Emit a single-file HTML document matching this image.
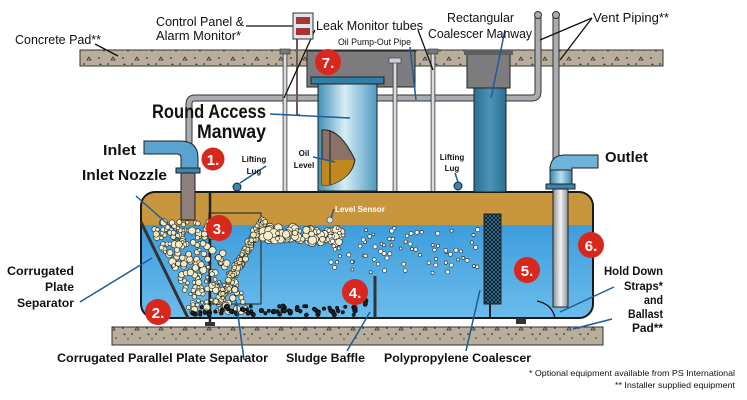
<!DOCTYPE html>
<html><head><meta charset="utf-8"><style>
html,body{margin:0;padding:0;background:#fff;}
svg{display:block;}
.t{font-family:"Liberation Sans Narrow","Liberation Sans",sans-serif;fill:#111;}
.b{font-weight:bold;}
</style></head><body>
<svg id="s" width="747" height="400" viewBox="0 0 747 400" xmlns="http://www.w3.org/2000/svg">
<defs>
<linearGradient id="water" x1="0" y1="0" x2="0" y2="1"><stop offset="0" stop-color="#2c92d6"/><stop offset="1" stop-color="#6cbcec"/></linearGradient>
<linearGradient id="cyl" x1="0" y1="0" x2="1" y2="0"><stop offset="0" stop-color="#3f8fb5"/><stop offset="0.45" stop-color="#d6eef6"/><stop offset="1" stop-color="#4f9ac0"/></linearGradient>
<linearGradient id="coal" x1="0" y1="0" x2="1" y2="0"><stop offset="0" stop-color="#2c6f92"/><stop offset="0.5" stop-color="#4a93b8"/><stop offset="1" stop-color="#2c6f92"/></linearGradient>
<linearGradient id="pipe" x1="0" y1="0" x2="1" y2="0"><stop offset="0" stop-color="#8a8f95"/><stop offset="0.5" stop-color="#f4f4f4"/><stop offset="1" stop-color="#8a8f95"/></linearGradient>
<linearGradient id="blpipe" x1="0" y1="0" x2="1" y2="0"><stop offset="0" stop-color="#3a85b0"/><stop offset="0.5" stop-color="#b8e0f0"/><stop offset="1" stop-color="#3a85b0"/></linearGradient>
<pattern id="grav" width="24" height="18" patternUnits="userSpaceOnUse"><rect width="24" height="18" fill="#b9ad9c"/><circle cx="3" cy="4" r="0.9" fill="#333"/><circle cx="12" cy="10" r="0.9" fill="#333"/><path d="M17 3l2 3h-4z" fill="none" stroke="#333" stroke-width="0.8"/><circle cx="8" cy="15" r="0.7" fill="#333"/><path d="M4 9l2 2h-3z" fill="#444"/><circle cx="20" cy="14" r="0.8" fill="#333"/></pattern>
<pattern id="mesh" width="4" height="4" patternUnits="userSpaceOnUse"><rect width="4" height="4" fill="#2d7aa8"/><path d="M0 0L4 4M4 0L0 4" stroke="#111" stroke-width="0.8"/></pattern>
</defs>
<rect x="80" y="50" width="583" height="16" fill="url(#grav)" stroke="#333" stroke-width="1"/>
<rect x="112" y="327" width="491" height="18" fill="url(#grav)" stroke="#333" stroke-width="1"/>
<rect x="307" y="51" width="108" height="36" fill="#7d7d80" stroke="#222"/>
<rect x="467" y="51" width="43" height="37" fill="#7d7d80" stroke="#222"/>
<rect x="464" y="50" width="49" height="5" fill="#5f5f62"/>
<path d="M538 15 V92 Q538 98 532 98 H195 Q189 98 189 104 V145" fill="none" stroke="#333" stroke-width="7"/>
<path d="M538 15 V92 Q538 98 532 98 H195 Q189 98 189 104 V145" fill="none" stroke="#a9adb2" stroke-width="5"/>
<path d="M556 15 V160" fill="none" stroke="#333" stroke-width="7"/>
<path d="M556 15 V160" fill="none" stroke="#a9adb2" stroke-width="5"/>
<circle cx="538" cy="15" r="3.5" fill="#a9adb2" stroke="#333"/><circle cx="556" cy="15" r="3.5" fill="#a9adb2" stroke="#333"/>
<rect x="283" y="50" width="4" height="268" fill="url(#pipe)" stroke="#333" stroke-width="0.6"/>
<rect x="431" y="50" width="4" height="268" fill="url(#pipe)" stroke="#333" stroke-width="0.6"/>
<rect x="393" y="62" width="4" height="163" fill="url(#pipe)" stroke="#333" stroke-width="0.6"/>
<rect x="389" y="58" width="12" height="5" fill="#ccd" stroke="#333" stroke-width="0.6"/>
<rect x="280" y="49" width="10" height="5" fill="#777" stroke="#333" stroke-width="0.6"/>
<rect x="428" y="49" width="10" height="5" fill="#777" stroke="#333" stroke-width="0.6"/>
<path d="M297 33 V115 H300" fill="none" stroke="#6b5a55" stroke-width="2"/>
<rect x="141" y="192" width="452" height="126" rx="14" fill="url(#water)"/>
<path d="M155 192 H579 Q593 192 593 206 V225 H141 V206 Q141 192 155 192Z" fill="#c8963c"/>
<rect x="141" y="192" width="452" height="126" rx="14" fill="none" stroke="#1a1a1a" stroke-width="2"/>
<rect x="318" y="83" width="59" height="108" fill="url(#cyl)" stroke="#222"/>
<rect x="311" y="77" width="73" height="7" fill="#2f7fa8" stroke="#222"/>
<path d="M322 130 Q340 128 355 160 Q352 178 330 185 L322 185 Z" fill="#8b7166" stroke="#222"/>
<path d="M322 160 H354 Q352 178 330 185 L322 185Z" fill="#c0891f"/>
<line x1="330" y1="130" x2="330" y2="185" stroke="#222" stroke-width="1"/>
<rect x="474" y="88" width="32" height="104" fill="url(#coal)" stroke="#222"/>
<rect x="484" y="214" width="17" height="90" fill="url(#mesh)" stroke="#222"/>
<line x1="490" y1="304" x2="490" y2="318" stroke="#222" stroke-width="2"/>
<rect x="553" y="187" width="15" height="120" fill="url(#pipe)" stroke="#222"/>
<path d="M550 167 V187 H572 V167 Z" fill="url(#blpipe)" stroke="#222"/>
<path d="M550 170 Q550 155 565 155 H598 V168 H572 V170 Z" fill="#6fb3d8" stroke="#222"/>
<rect x="546" y="184" width="29" height="5" fill="#3a85b0" stroke="#222"/>
<rect x="181" y="168" width="14" height="52" fill="#8c7f7c" stroke="#222"/>
<path d="M144 141 H180 Q198 141 198 158 V170 H181 V158 Q181 154 177 154 H144 Z" fill="#5aa3d0" stroke="#222"/>
<rect x="176" y="168" width="24" height="5" fill="#3a85b0" stroke="#222"/>
<circle cx="237" cy="187" r="4" fill="#3a85b0" stroke="#222"/><circle cx="458" cy="186" r="4" fill="#3a85b0" stroke="#222"/>
<line x1="141" y1="222" x2="188" y2="318" stroke="#333" stroke-width="3"/>
<rect x="209" y="213" width="52" height="91" fill="none" stroke="#333" stroke-width="1.2"/>
<line x1="210" y1="192" x2="210" y2="326" stroke="#222" stroke-width="2.5"/>
<rect x="205" y="322" width="10" height="4" fill="#333"/>
<rect x="516" y="318" width="10" height="6" fill="#333"/>
<line x1="375" y1="276" x2="375" y2="318" stroke="#333" stroke-width="3"/>
<path d="M537 301 Q552 304 555 318" fill="none" stroke="#111" stroke-width="1.3"/>
<g id="bub"></g>
<circle cx="330" cy="220" r="3" fill="#cfe8f5" stroke="#444" stroke-width="0.6"/>
<g stroke="#1b5c9c" stroke-width="1.5" fill="none">
<line x1="136" y1="196" x2="179" y2="234"/><line x1="80" y1="302" x2="152" y2="258"/>
<line x1="244" y1="360" x2="236" y2="300"/><line x1="347" y1="351" x2="370" y2="312"/>
<line x1="466" y1="351" x2="480" y2="290"/><line x1="560" y1="312" x2="614" y2="287"/>
<line x1="573" y1="329" x2="612" y2="319"/><line x1="270" y1="114" x2="350" y2="118"/>
<line x1="313" y1="157" x2="335" y2="162"/><line x1="334" y1="209" x2="331" y2="218"/>
<line x1="455" y1="173" x2="458" y2="182"/><line x1="410" y1="47" x2="416" y2="100"/>
<line x1="505" y1="30" x2="491" y2="98"/><line x1="266" y1="166" x2="240" y2="183"/>
</g>
<g stroke="#111" stroke-width="1.3" fill="none">
<line x1="246" y1="26" x2="293" y2="26"/><line x1="315" y1="30" x2="284" y2="98"/>
<line x1="418" y1="30" x2="433" y2="70"/><line x1="592" y1="18" x2="540" y2="40"/><line x1="592" y1="18" x2="560" y2="60"/>
<line x1="95" y1="44" x2="118" y2="56"/>
</g>
<rect x="293" y="13" width="20" height="26" fill="#dce8ee" stroke="#333"/>
<rect x="296" y="17" width="14" height="7" fill="#a33"/><rect x="296" y="28" width="14" height="7" fill="#a33"/>
<g font-family="Liberation Sans" font-weight="bold" font-size="15" fill="#fff" text-anchor="middle">
<circle cx="213" cy="159" r="12" fill="#d8271d" stroke="#fff" stroke-width="1"/><text x="213" y="165">1.</text>
<circle cx="328" cy="62" r="13" fill="#d8271d"/><text x="328" y="68">7.</text>
<circle cx="219" cy="228" r="13" fill="#d8271d"/><text x="219" y="234">3.</text>
<circle cx="158" cy="312" r="13" fill="#d8271d"/><text x="158" y="318">2.</text>
<circle cx="355" cy="292" r="13" fill="#d8271d"/><text x="355" y="298">4.</text>
<circle cx="527" cy="270" r="13" fill="#d8271d"/><text x="527" y="276">5.</text>
<circle cx="591" cy="245" r="13" fill="#d8271d"/><text x="591" y="251">6.</text>
</g>
<g class="t" font-size="13" lengthAdjust="spacingAndGlyphs">
<text x="156" y="26" textLength="88" lengthAdjust="spacingAndGlyphs">Control Panel &amp;</text><text x="156" y="40" textLength="85" lengthAdjust="spacingAndGlyphs">Alarm Monitor*</text>
<text x="15" y="44" textLength="86" lengthAdjust="spacingAndGlyphs">Concrete Pad**</text>
<text x="316" y="30" textLength="107" lengthAdjust="spacingAndGlyphs">Leak Monitor tubes</text>
<text x="447" y="22" textLength="67" lengthAdjust="spacingAndGlyphs">Rectangular</text><text x="428" y="38" textLength="104" lengthAdjust="spacingAndGlyphs">Coalescer Manway</text>
<text x="593" y="22" textLength="76" lengthAdjust="spacingAndGlyphs">Vent Piping**</text>
</g>
<text class="t" x="338" y="45" font-size="9" textLength="73" lengthAdjust="spacingAndGlyphs">Oil Pump-Out Pipe</text>
<g class="t b">
<text x="152" y="118" font-size="19" textLength="114" lengthAdjust="spacingAndGlyphs">Round Access</text><text x="197" y="138" font-size="19" textLength="69" lengthAdjust="spacingAndGlyphs">Manway</text>
<text x="103" y="155" font-size="15" textLength="33" lengthAdjust="spacingAndGlyphs">Inlet</text><text x="82" y="180" font-size="15" textLength="85" lengthAdjust="spacingAndGlyphs">Inlet Nozzle</text>
<text x="605" y="162" font-size="15" textLength="43" lengthAdjust="spacingAndGlyphs">Outlet</text>
</g>
<g class="t b" font-size="8" text-anchor="middle"><text x="254" y="162">Lifting</text><text x="254" y="174">Lug</text>
<text x="452" y="160">Lifting</text><text x="452" y="171">Lug</text>
<text x="304" y="156">Oil</text><text x="304" y="168">Level</text></g>
<text class="t b" x="335" y="212" font-size="8" style="fill:#fff">Level Sensor</text>
<g class="t b" font-size="12" text-anchor="end">
<text x="74" y="275" textLength="67" lengthAdjust="spacingAndGlyphs">Corrugated</text><text x="74" y="291" textLength="29" lengthAdjust="spacingAndGlyphs">Plate</text><text x="74" y="307" textLength="57" lengthAdjust="spacingAndGlyphs">Separator</text>
<text x="663" y="275" textLength="59" lengthAdjust="spacingAndGlyphs">Hold Down</text><text x="663" y="290" textLength="39" lengthAdjust="spacingAndGlyphs">Straps*</text><text x="663" y="304" textLength="19" lengthAdjust="spacingAndGlyphs">and</text><text x="663" y="318" textLength="35" lengthAdjust="spacingAndGlyphs">Ballast</text><text x="663" y="332" textLength="31" lengthAdjust="spacingAndGlyphs">Pad**</text>
</g>
<g class="t b" font-size="12">
<text x="57" y="362" textLength="211" lengthAdjust="spacingAndGlyphs">Corrugated Parallel Plate Separator</text>
<text x="286" y="362" textLength="79" lengthAdjust="spacingAndGlyphs">Sludge Baffle</text>
<text x="384" y="362" textLength="147" lengthAdjust="spacingAndGlyphs">Polypropylene Coalescer</text>
</g>
<g class="t" font-size="8.5"><text x="529" y="376" textLength="206" lengthAdjust="spacingAndGlyphs">* Optional equipment available from PS International</text><text x="615" y="388" textLength="120" lengthAdjust="spacingAndGlyphs">** Installer supplied equipment</text></g>
</svg>
<script>
var g=document.getElementById('bub'),s=7,ns='http://www.w3.org/2000/svg';
function r(){s=(s*9301+49297)%233280;return s/233280;}
function c(x,y,rad,f,st){var e=document.createElementNS(ns,'circle');e.setAttribute('cx',x);e.setAttribute('cy',y);e.setAttribute('r',rad);e.setAttribute('fill',f);e.setAttribute('stroke',st||'#222');e.setAttribute('stroke-width','0.6');g.appendChild(e);}
var i,x,y;
for(i=0;i<220;i++){y=222+r()*90;x=150+(y-222)*0.45+r()*(60);c(x,y,1.5+r()*2.2,'#f3ecc6');}
for(i=0;i<160;i++){var t=r();x=215+t*45+r()*6;y=300-t*82+r()*6;c(x,y,1.6+r()*1.4,'#efe3b0');}
for(i=0;i<120;i++){x=262+r()*80;y=226+r()*14+(x-262)*0.05;c(x,y,2+r()*2.5,'#f5eecb');}
for(i=0;i<80;i++){x=330+r()*150;y=228+r()*45;c(x,y,1.4+r()*0.8,'#fff');}
for(i=0;i<80;i++){x=190+r()*180;y=306+r()*9;if(x>356)y=300+r()*14;c(x,y,1.5+r()*0.8,'#222','#000');}
</script>
</body></html>
